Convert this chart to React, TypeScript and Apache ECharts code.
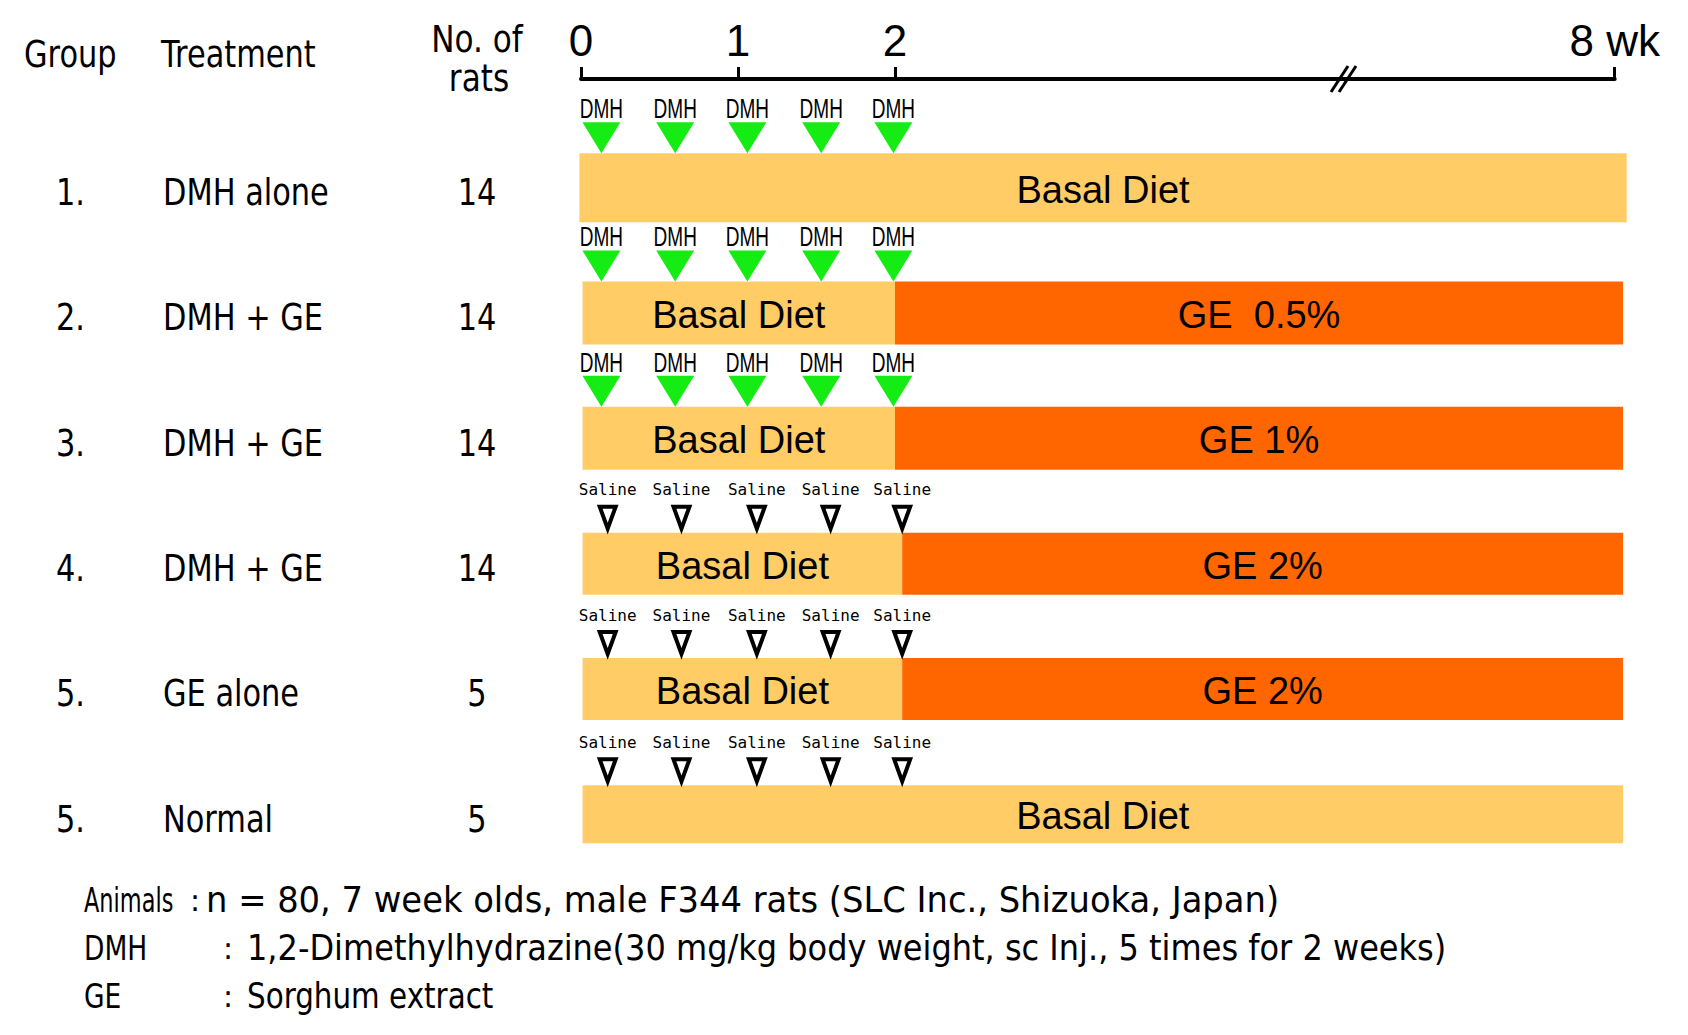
import React, { useEffect, useRef } from 'react';
import * as echarts from 'echarts';

// ---------- data ----------
const groupIds = ['1.', '2.', '3.', '4.', '5.', '5.'];
const treatments = ['DMH alone', 'DMH + GE', 'DMH + GE', 'DMH + GE', 'GE alone', 'Normal'];
const ratCounts = ['14', '14', '14', '14', '5', '5'];

const weekTicks = [0, 1, 2, 8];
const weekTickLabels = ['0', '1', '2', '8 wk'];
const breakMarkWeek = 5.76;

// diet segments (weeks)
const dietRow = [0, 1, 1, 2, 2, 3, 3, 4, 4, 5];
const dietStart = [-0.01, 0.01, 2, 0.01, 2, 0.01, 2.06, 0.01, 2.06, 0.01];
const dietEnd = [8.1, 2, 8.07, 2, 8.07, 2.06, 8.07, 2.06, 8.07, 8.07];
const dietLabel = ['Basal Diet', 'Basal Diet', 'GE  0.5%', 'Basal Diet', 'GE 1%', 'Basal Diet', 'GE 2%', 'Basal Diet', 'GE 2%', 'Basal Diet'];
const dietKind = ['basal', 'basal', 'ge', 'basal', 'ge', 'basal', 'ge', 'basal', 'ge', 'basal'];

// injections
const injectionAgent = ['DMH', 'DMH', 'DMH', 'Saline', 'Saline', 'Saline'];
const dmhWeeks = [0.13, 0.6, 1.06, 1.53, 1.99];
const salineWeeks = [0.17, 0.64, 1.12, 1.59, 2.06];

const footnoteTerms = ['Animals', 'DMH', 'GE'];
const footnoteTexts = [
  'n = 80, 7 week olds, male F344 rats (SLC Inc., Shizuoka, Japan)',
  '1,2-Dimethylhydrazine(30 mg/kg body weight, sc Inj., 5 times for 2 weeks)',
  'Sorghum extract',
];

// ---------- layout / style ----------
const BREAK_AT = 2;
const BREAK_SCALE = 0.764;
const toPos = (w: number) => (w <= BREAK_AT ? w : BREAK_AT + (w - BREAK_AT) * BREAK_SCALE);

const GRID_LEFT = 581;
const GRID_TOP = 125;
const PX_PER_UNIT = 157;
const GRID_H = 752;
const AXIS_OFFSET = 46;
const ROW_BAR_HEIGHT = [69, 63, 63, 62, 62, 58];
const FOOT_SCALE = [0.965, 0.915, 0.84];

const COLORS = { basal: '#FFCC66', ge: '#FF6600', green: '#14EC14' };
const SANS = "'Liberation Sans', Arial, sans-serif";
const GOTHIC = "'DejaVu Sans', sans-serif";
const MONO = "'DejaVu Sans Mono', monospace";

export default function App() {
  const ref = useRef<HTMLDivElement>(null);

  useEffect(() => {
    const chart = echarts.init(ref.current!, null, { renderer: 'svg' });
    const axisMax = toPos(8);
    const tickPos = weekTicks.map(toPos);

    const dietData = dietRow.map((r, i) => [toPos(dietStart[i]), toPos(dietEnd[i]), r, i]);
    const injData: number[][] = [];
    injectionAgent.forEach((a, r) => {
      const weeks = a === 'DMH' ? dmhWeeks : salineWeeks;
      weeks.forEach((w) => injData.push([toPos(w), r, a === 'DMH' ? 0 : 1]));
    });
    const rowData = groupIds.map((_, r) => [0, r]);

    const option: any = {
      animation: false,
      backgroundColor: '#ffffff',
      grid: { left: GRID_LEFT, top: GRID_TOP, width: axisMax * PX_PER_UNIT, height: GRID_H },
      xAxis: {
        type: 'value',
        min: 0,
        max: axisMax,
        position: 'top',
        offset: AXIS_OFFSET,
        axisLine: { show: true, lineStyle: { color: '#000', width: 4 } },
        axisTick: { show: true, customValues: tickPos, length: 12, lineStyle: { color: '#000', width: 3 } },
        axisLabel: {
          show: true,
          customValues: tickPos,
          formatter: (v: number) => {
            const i = tickPos.findIndex((t) => Math.abs(t - v) < 1e-6);
            return i >= 0 ? weekTickLabels[i] : '';
          },
          fontSize: 44,
          fontFamily: SANS,
          color: '#000',
          margin: 17,
        },
        splitLine: { show: false },
      },
      yAxis: {
        type: 'category',
        inverse: true,
        data: groupIds.map((_, i) => String(i)),
        show: false,
      },
      series: [
        {
          type: 'custom',
          name: 'diet',
          encode: { x: [0, 1], y: 2 },
          data: dietData,
          renderItem: (params: any, api: any) => {
            const i = api.value(3);
            const r = api.value(2);
            const s = api.coord([api.value(0), r]);
            const e = api.coord([api.value(1), r]);
            const h = ROW_BAR_HEIGHT[r];
            return {
              type: 'group',
              children: [
                {
                  type: 'rect',
                  shape: { x: s[0], y: s[1] - h / 2, width: e[0] - s[0], height: h },
                  style: { fill: dietKind[i] === 'ge' ? COLORS.ge : COLORS.basal },
                },
                {
                  type: 'text',
                  x: (s[0] + e[0]) / 2,
                  y: s[1] + 2,
                  style: {
                    text: dietLabel[i],
                    fill: '#000',
                    fontSize: 38,
                    fontFamily: SANS,
                    align: 'center',
                    verticalAlign: 'middle',
                  },
                },
              ],
            };
          },
        },
        {
          type: 'custom',
          name: 'injections',
          encode: { x: 0, y: 1 },
          data: injData,
          renderItem: (params: any, api: any) => {
            const r = api.value(1);
            const c = api.coord([api.value(0), r]);
            const top = c[1] - ROW_BAR_HEIGHT[r] / 2;
            const x = c[0];
            if (api.value(2) === 0) {
              return {
                type: 'group',
                children: [
                  {
                    type: 'polygon',
                    shape: { points: [[x - 19, top - 31], [x + 19, top - 31], [x, top]] },
                    style: { fill: COLORS.green },
                  },
                  {
                    type: 'text',
                    x,
                    y: top - 45,
                    scaleX: 0.68,
                    style: {
                      text: 'DMH',
                      fill: '#000',
                      fontSize: 28,
                      fontFamily: SANS,
                      align: 'center',
                      verticalAlign: 'middle',
                    },
                  },
                ],
              };
            }
            return {
              type: 'group',
              children: [
                {
                  type: 'polygon',
                  shape: { points: [[x - 8, top - 26], [x + 8, top - 26], [x, top - 4]] },
                  style: { fill: '#fff', stroke: '#000', lineWidth: 4, lineJoin: 'miter' },
                },
                {
                  type: 'text',
                  x,
                  y: top - 43,
                  style: {
                    text: 'Saline',
                    fill: '#000',
                    fontSize: 16,
                    fontFamily: MONO,
                    align: 'center',
                    verticalAlign: 'middle',
                  },
                },
              ],
            };
          },
        },
        {
          type: 'custom',
          name: 'rowLabels',
          data: rowData,
          renderItem: (params: any, api: any) => {
            const r = api.value(1);
            const c = api.coord([0, r]);
            const y = c[1] + 4;
            const mk = (text: string, x: number, align: string) => ({
              type: 'text',
              x,
              y,
              scaleX: 0.8,
              style: { text, fill: '#000', fontSize: 38, fontFamily: GOTHIC, align, verticalAlign: 'middle' },
            });
            return {
              type: 'group',
              children: [
                mk(groupIds[r], 56, 'left'),
                mk(treatments[r], 163, 'left'),
                mk(ratCounts[r], 477, 'center'),
              ],
            };
          },
        },
        {
          type: 'custom',
          name: 'axisBreak',
          data: [[toPos(breakMarkWeek), 0]],
          renderItem: (params: any, api: any) => {
            const bx = api.coord([api.value(0), 0])[0];
            const by = params.coordSys.y - AXIS_OFFSET;
            return {
              type: 'group',
              children: [
                { type: 'line', shape: { x1: bx - 15, y1: by + 13, x2: bx + 2, y2: by - 13 }, style: { stroke: '#000', lineWidth: 3 } },
                { type: 'line', shape: { x1: bx - 7, y1: by + 13, x2: bx + 10, y2: by - 13 }, style: { stroke: '#000', lineWidth: 3 } },
              ],
            };
          },
        },
      ],
      graphic: [
        { type: 'text', x: 24, y: 54, scaleX: 0.8, style: { text: 'Group', fontSize: 38, fontFamily: GOTHIC, fill: '#000', verticalAlign: 'middle' } },
        { type: 'text', x: 161, y: 54, scaleX: 0.8, style: { text: 'Treatment', fontSize: 38, fontFamily: GOTHIC, fill: '#000', verticalAlign: 'middle' } },
        { type: 'text', x: 477, y: 39, scaleX: 0.82, style: { text: 'No. of', fontSize: 38, fontFamily: GOTHIC, fill: '#000', align: 'center', verticalAlign: 'middle' } },
        { type: 'text', x: 479, y: 78, scaleX: 0.82, style: { text: 'rats', fontSize: 38, fontFamily: GOTHIC, fill: '#000', align: 'center', verticalAlign: 'middle' } },
        ...footnoteTerms.flatMap((t, i) => {
          const y = 900 + i * 48;
          const colonX = i === 0 ? 190 : 223;
          const textX = i === 0 ? 206 : 247;
          return [
            { type: 'text', x: 84, y, scaleX: i === 0 ? 0.66 : 0.78, style: { text: t, fontSize: 34, fontFamily: GOTHIC, fill: '#000', verticalAlign: 'middle' } },
            { type: 'text', x: colonX, y, style: { text: ':', fontSize: 30, fontFamily: GOTHIC, fill: '#000', verticalAlign: 'middle' } },
            { type: 'text', x: textX, y, scaleX: FOOT_SCALE[i], style: { text: footnoteTexts[i], fontSize: 35, fontFamily: GOTHIC, fill: '#000', verticalAlign: 'middle' } },
          ];
        }),
      ],
    };

    chart.setOption(option);
    return () => chart.dispose();
  }, []);

  return <div ref={ref} style={{ position: 'absolute', left: 0, top: 0, width: 1688, height: 1035 }} />;
}
